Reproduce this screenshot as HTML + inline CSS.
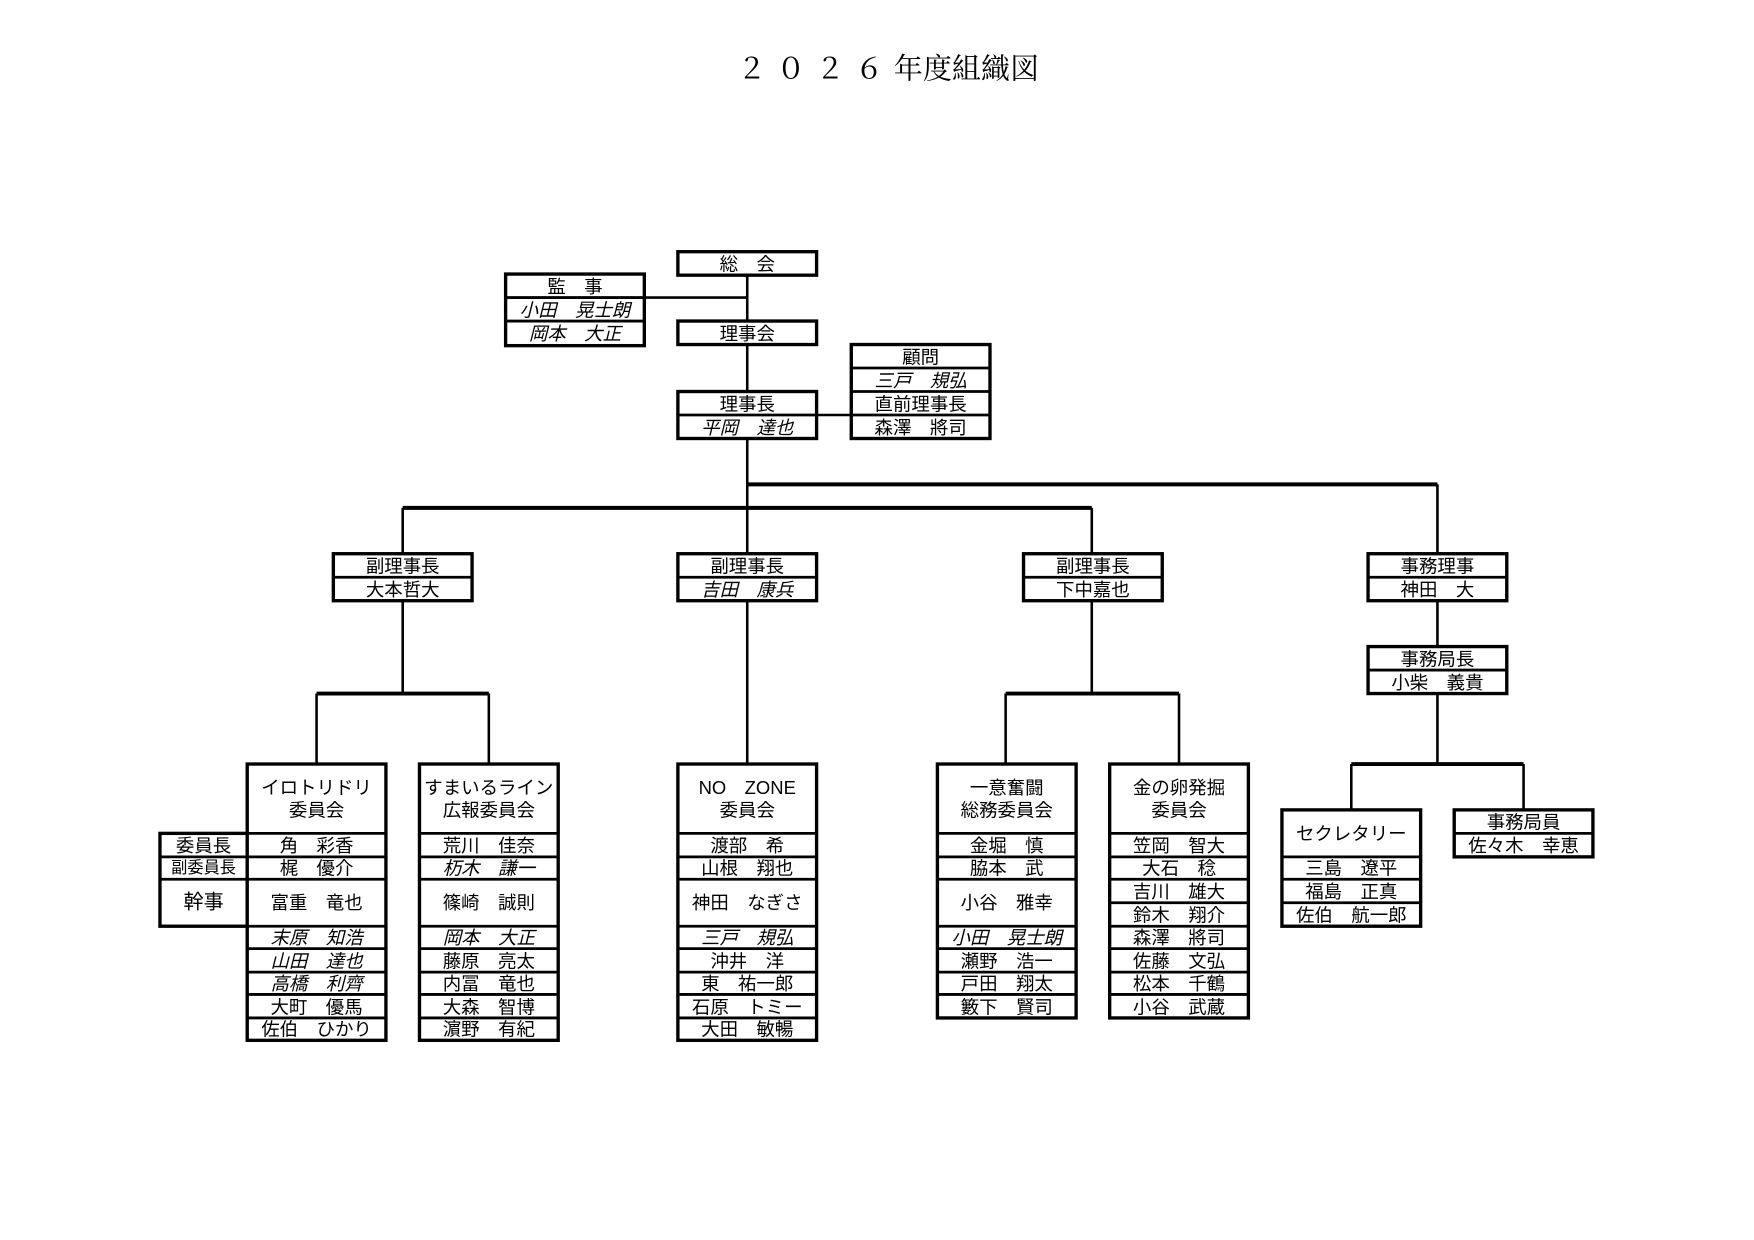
<!DOCTYPE html>
<html><head><meta charset="utf-8"><style>
html,body{margin:0;padding:0;background:#fff;}
svg{display:block}
text{font-family:"Liberation Sans","Noto Sans CJK JP",sans-serif;fill:#000;text-anchor:middle;dominant-baseline:central;font-size:16.5px}
.i{font-style:italic}
.t{font-family:"Liberation Serif","Noto Serif CJK SC",serif;font-size:26px;dominant-baseline:auto}
rect{fill:#fff;stroke:#000;stroke-width:3}
line{stroke:#000;stroke-width:2.5}
.c{stroke-width:2.3}
</style></head><body>
<svg width="1754" height="1240" viewBox="0 0 1568 1108.5" xmlns="http://www.w3.org/2000/svg">
<text class="t" x="794" y="70"><tspan letter-spacing="9">２０２６</tspan>年度組織図</text>

<!-- connectors -->
<line class="c" x1="668" y1="246" x2="668" y2="495"/>
<line class="c" x1="576" y1="266" x2="668" y2="266"/>
<line class="c" x1="730" y1="371" x2="761" y2="371"/>
<line x1="668" y1="433" x2="1285" y2="433" style="stroke-width:3.5"/>
<line class="c" x1="1285" y1="433" x2="1285" y2="495"/>
<line x1="360" y1="454" x2="976" y2="454" style="stroke-width:3.5"/>
<line class="c" x1="360" y1="454" x2="360" y2="495"/>
<line class="c" x1="976" y1="454" x2="976" y2="495"/>
<line class="c" x1="1285" y1="537" x2="1285" y2="578"/>
<line class="c" x1="360" y1="537" x2="360" y2="620"/>
<line x1="283" y1="620" x2="437" y2="620" style="stroke-width:3.5"/>
<line class="c" x1="283" y1="620" x2="283" y2="683"/>
<line class="c" x1="437" y1="620" x2="437" y2="683"/>
<line class="c" x1="668" y1="537" x2="668" y2="683"/>
<line class="c" x1="976" y1="537" x2="976" y2="620"/>
<line x1="899" y1="620" x2="1054" y2="620" style="stroke-width:3.5"/>
<line class="c" x1="899" y1="620" x2="899" y2="683"/>
<line class="c" x1="1054" y1="620" x2="1054" y2="683"/>
<line class="c" x1="1285" y1="620" x2="1285" y2="683"/>
<line x1="1208" y1="683" x2="1362" y2="683" style="stroke-width:3.5"/>
<line class="c" x1="1208" y1="683" x2="1208" y2="724"/>
<line class="c" x1="1362" y1="683" x2="1362" y2="724"/>

<!-- top boxes -->
<rect x="606" y="225" width="124" height="21"/><text x="668" y="236">総　会</text>
<rect x="452" y="245" width="124" height="64"/>
<line x1="452" y1="266" x2="576" y2="266"/><line x1="452" y1="287" x2="576" y2="287"/>
<text x="514" y="256">監　事</text><text class="i" x="514" y="277">小田　晃士朗</text><text class="i" x="514" y="298">岡本　大正</text>
<rect x="606" y="287" width="124" height="21"/><text x="668" y="298">理事会</text>
<rect x="761" y="308" width="124" height="84"/>
<line x1="761" y1="329" x2="885" y2="329"/><line x1="761" y1="350" x2="885" y2="350"/><line x1="761" y1="371" x2="885" y2="371"/>
<text x="823" y="319">顧問</text><text class="i" x="823" y="340">三戸　規弘</text><text x="823" y="361">直前理事長</text><text x="823" y="382">森澤　將司</text>
<rect x="606" y="350" width="124" height="42"/><line x1="606" y1="371" x2="730" y2="371"/>
<text x="668" y="361">理事長</text><text class="i" x="668" y="382">平岡　達也</text>

<!-- level 2 -->
<rect x="298" y="495" width="124" height="42"/><line x1="298" y1="516" x2="422" y2="516"/>
<text x="360" y="506">副理事長</text><text x="360" y="527">大本哲大</text>
<rect x="606" y="495" width="124" height="42"/><line x1="606" y1="516" x2="730" y2="516"/>
<text x="668" y="506">副理事長</text><text class="i" x="668" y="527">吉田　康兵</text>
<rect x="915" y="495" width="124" height="42"/><line x1="915" y1="516" x2="1039" y2="516"/>
<text x="977" y="506">副理事長</text><text x="977" y="527">下中嘉也</text>
<rect x="1223" y="495" width="124" height="42"/><line x1="1223" y1="516" x2="1347" y2="516"/>
<text x="1285" y="506">事務理事</text><text x="1285" y="527">神田　大</text>
<rect x="1223" y="578" width="124" height="42"/><line x1="1223" y1="599" x2="1347" y2="599"/>
<text x="1285" y="589">事務局長</text><text x="1285" y="610">小柴　義貴</text>

<!-- side label box -->
<rect x="143" y="745" width="78" height="83"/>
<line x1="143" y1="766" x2="221" y2="766"/><line x1="143" y1="786" x2="221" y2="786"/>
<text x="182" y="756">委員長</text><text x="182" y="776" style="font-size:14.5px">副委員長</text><text x="182" y="807" style="font-size:18px">幹事</text>

<!-- イロトリドリ -->
<rect x="221" y="683" width="124" height="247"/>
<line x1="221" y1="745" x2="345" y2="745"/><line x1="221" y1="766" x2="345" y2="766"/><line x1="221" y1="786" x2="345" y2="786"/><line x1="221" y1="828" x2="345" y2="828"/><line x1="221" y1="848" x2="345" y2="848"/><line x1="221" y1="869" x2="345" y2="869"/><line x1="221" y1="889" x2="345" y2="889"/><line x1="221" y1="910" x2="345" y2="910"/>
<text x="283" y="704">イロトリドリ</text><text x="283" y="724">委員会</text>
<text x="283" y="756">角　彩香</text><text x="283" y="776">梶　優介</text><text x="283" y="807">富重　竜也</text>
<text class="i" x="283" y="838">末原　知浩</text><text class="i" x="283" y="859">山田　達也</text><text class="i" x="283" y="879">高橋　利齊</text><text x="283" y="900">大町　優馬</text><text x="283" y="920">佐伯　ひかり</text>

<!-- すまいるライン -->
<rect x="375" y="683" width="124" height="247"/>
<line x1="375" y1="745" x2="499" y2="745"/><line x1="375" y1="766" x2="499" y2="766"/><line x1="375" y1="786" x2="499" y2="786"/><line x1="375" y1="828" x2="499" y2="828"/><line x1="375" y1="848" x2="499" y2="848"/><line x1="375" y1="869" x2="499" y2="869"/><line x1="375" y1="889" x2="499" y2="889"/><line x1="375" y1="910" x2="499" y2="910"/>
<text x="437" y="704">すまいるライン</text><text x="437" y="724">広報委員会</text>
<text x="437" y="756">荒川　佳奈</text><text class="i" x="437" y="776">杤木　謙一</text><text x="437" y="807">篠崎　誠則</text>
<text class="i" x="437" y="838">岡本　大正</text><text x="437" y="859">藤原　亮太</text><text x="437" y="879">内冨　竜也</text><text x="437" y="900">大森　智博</text><text x="437" y="920">濵野　有紀</text>

<!-- NO ZONE -->
<rect x="606" y="683" width="124" height="247"/>
<line x1="606" y1="745" x2="730" y2="745"/><line x1="606" y1="766" x2="730" y2="766"/><line x1="606" y1="786" x2="730" y2="786"/><line x1="606" y1="828" x2="730" y2="828"/><line x1="606" y1="848" x2="730" y2="848"/><line x1="606" y1="869" x2="730" y2="869"/><line x1="606" y1="889" x2="730" y2="889"/><line x1="606" y1="910" x2="730" y2="910"/>
<text x="668" y="704">NO　ZONE</text><text x="668" y="724">委員会</text>
<text x="668" y="756">渡部　希</text><text x="668" y="776">山根　翔也</text><text x="668" y="807">神田　なぎさ</text>
<text class="i" x="668" y="838">三戸　規弘</text><text x="668" y="859">沖井　洋</text><text x="668" y="879">東　祐一郎</text><text x="668" y="900">石原　トミー</text><text x="668" y="920">大田　敏暢</text>

<!-- 一意奮闘 -->
<rect x="838" y="683" width="124" height="227"/>
<line x1="838" y1="745" x2="962" y2="745"/><line x1="838" y1="766" x2="962" y2="766"/><line x1="838" y1="786" x2="962" y2="786"/><line x1="838" y1="828" x2="962" y2="828"/><line x1="838" y1="848" x2="962" y2="848"/><line x1="838" y1="869" x2="962" y2="869"/><line x1="838" y1="889" x2="962" y2="889"/>
<text x="900" y="704">一意奮闘</text><text x="900" y="724">総務委員会</text>
<text x="900" y="756">金堀　慎</text><text x="900" y="776">脇本　武</text><text x="900" y="807">小谷　雅幸</text>
<text class="i" x="900" y="838">小田　晃士朗</text><text x="900" y="859">瀬野　浩一</text><text x="900" y="879">戸田　翔太</text><text x="900" y="900">籔下　賢司</text>

<!-- 金の卵 -->
<rect x="992" y="683" width="124" height="227"/>
<line x1="992" y1="745" x2="1116" y2="745"/><line x1="992" y1="766" x2="1116" y2="766"/><line x1="992" y1="786" x2="1116" y2="786"/><line x1="992" y1="807" x2="1116" y2="807"/><line x1="992" y1="828" x2="1116" y2="828"/><line x1="992" y1="848" x2="1116" y2="848"/><line x1="992" y1="869" x2="1116" y2="869"/><line x1="992" y1="889" x2="1116" y2="889"/>
<text x="1054" y="704">金の卵発掘</text><text x="1054" y="724">委員会</text>
<text x="1054" y="756">笠岡　智大</text><text x="1054" y="776">大石　稔</text><text x="1054" y="797">吉川　雄大</text><text x="1054" y="818">鈴木　翔介</text>
<text x="1054" y="838">森澤　將司</text><text x="1054" y="859">佐藤　文弘</text><text x="1054" y="879">松本　千鶴</text><text x="1054" y="900">小谷　武蔵</text>

<!-- セクレタリー -->
<rect x="1146" y="724" width="124" height="104"/>
<line x1="1146" y1="766" x2="1270" y2="766"/><line x1="1146" y1="786" x2="1270" y2="786"/><line x1="1146" y1="807" x2="1270" y2="807"/>
<text x="1208" y="745">セクレタリー</text>
<text x="1208" y="776">三島　遼平</text><text x="1208" y="797">福島　正真</text><text x="1208" y="818">佐伯　航一郎</text>

<!-- 事務局員 -->
<rect x="1300" y="724" width="124" height="42"/><line x1="1300" y1="745" x2="1424" y2="745"/>
<text x="1362" y="735">事務局員</text><text x="1362" y="756">佐々木　幸恵</text>
</svg>
</body></html>
